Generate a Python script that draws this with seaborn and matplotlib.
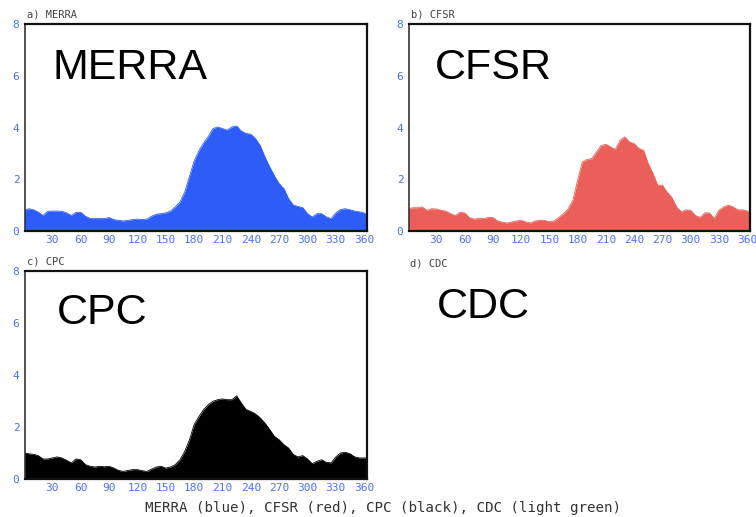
import numpy as np
import pandas as pd
import matplotlib
matplotlib.use("Agg")
import matplotlib.pyplot as plt
import seaborn as sns

lon = [0, 5, 10, 15, 20, 25, 30, 35, 40, 45, 50, 55, 60, 65, 70, 75, 80, 85, 90,
       95, 100, 105, 110, 115, 120, 125, 130, 135, 140, 145, 150, 155, 160, 165,
       170, 175, 180, 185, 190, 195, 200, 205, 210, 215, 220, 225, 230, 235, 240,
       245, 250, 255, 260, 265, 270, 275, 280, 285, 290, 295, 300, 305, 310, 315,
       320, 325, 330, 335, 340, 345, 350, 355, 360, 363]

merra = [0.80, 0.86, 0.82, 0.73, 0.60, 0.76, 0.77, 0.77, 0.76, 0.70, 0.60, 0.72,
         0.72, 0.57, 0.48, 0.48, 0.48, 0.48, 0.52, 0.44, 0.41, 0.39, 0.41, 0.44,
         0.46, 0.44, 0.46, 0.57, 0.65, 0.67, 0.70, 0.77, 0.93, 1.12, 1.50, 2.10,
         2.70, 3.10, 3.40, 3.65, 3.96, 4.02, 3.96, 3.90, 4.02, 4.06, 3.86, 3.77,
         3.74, 3.57, 3.30, 2.86, 2.48, 2.13, 1.83, 1.64, 1.25, 1.00, 0.95, 0.90,
         0.67, 0.54, 0.67, 0.67, 0.54, 0.48, 0.70, 0.83, 0.86, 0.82, 0.77, 0.74,
         0.70, 0.60]

cfsr = [0.86, 0.90, 0.90, 0.93, 0.80, 0.86, 0.85, 0.80, 0.77, 0.67, 0.60, 0.72,
        0.70, 0.52, 0.46, 0.48, 0.48, 0.52, 0.52, 0.39, 0.34, 0.31, 0.35, 0.39,
        0.41, 0.35, 0.31, 0.39, 0.41, 0.41, 0.36, 0.39, 0.52, 0.67, 0.86, 1.19,
        1.96, 2.67, 2.76, 2.80, 3.06, 3.30, 3.35, 3.25, 3.15, 3.50, 3.64, 3.44,
        3.38, 3.19, 3.12, 2.60, 2.22, 1.77, 1.77, 1.50, 1.30, 0.93, 0.74, 0.82,
        0.80, 0.60, 0.52, 0.70, 0.70, 0.48, 0.80, 0.93, 1.00, 0.93, 0.82, 0.82,
        0.77, 0.77]

cpc = [1.00, 0.97, 0.95, 0.90, 0.77, 0.77, 0.81, 0.85, 0.81, 0.72, 0.62, 0.77,
       0.74, 0.55, 0.49, 0.46, 0.49, 0.47, 0.49, 0.42, 0.33, 0.29, 0.33, 0.36,
       0.36, 0.32, 0.29, 0.38, 0.46, 0.49, 0.42, 0.46, 0.55, 0.74, 1.06, 1.50,
       2.09, 2.40, 2.67, 2.86, 2.99, 3.05, 3.08, 3.05, 3.05, 3.20, 2.92, 2.67,
       2.60, 2.50, 2.35, 2.15, 1.90, 1.64, 1.51, 1.32, 1.19, 0.94, 0.85, 0.90,
       0.77, 0.59, 0.68, 0.74, 0.64, 0.62, 0.85, 1.00, 1.03, 0.97, 0.85, 0.81,
       0.81, 0.81]

panel_titles = ["a) MERRA", "b) CFSR", "c) CPC", "d) CDC"]
big_labels = ["MERRA", "CFSR", "CPC", "CDC"]
x_ticks = [30, 60, 90, 120, 150, 180, 210, 240, 270, 300, 330, 360]
y_ticks = [0, 2, 4, 6, 8]
footer = "MERRA (blue), CFSR (red), CPC (black), CDC (light green)"

colors = ["#2e5cf8", "#ea5f5a", "#000000"]
tick_color = "#4d6ff5"

sns.set_style("white")
plt.rcParams["font.family"] = ["DejaVu Sans"]

fig = plt.figure(figsize=(7.56, 5.17), dpi=100)

W, H = 756.0, 517.0
def rect(l, t, r, b):
    return [l / W, 1 - b / H, (r - l) / W, (b - t) / H]

boxes = [rect(25, 24, 367, 231), rect(409, 24, 750, 231), rect(25, 271, 367, 479)]
series = [merra, cfsr, cpc]

for i, (box, vals) in enumerate(zip(boxes, series)):
    ax = fig.add_axes(box)
    df = pd.DataFrame({"lon": lon, "val": vals})
    sns.lineplot(data=df, x="lon", y="val", ax=ax, color=colors[i], lw=0.6)
    ax.fill_between(df["lon"], 0, df["val"], color=colors[i], lw=0)
    ax.set_xlim(1, 363)
    ax.set_ylim(0, 8)
    ax.set_xticks(x_ticks)
    ax.set_yticks(y_ticks)
    ax.set_xticklabels([str(t) for t in x_ticks])
    ax.set_yticklabels([str(t) for t in y_ticks])
    ax.set_xlabel("")
    ax.set_ylabel("")
    ax.tick_params(axis="both", colors=tick_color, labelsize=8, length=2,
                   width=1, pad=2, direction="out")
    ax.tick_params(axis="x", length=0, pad=3)
    for s in ax.spines.values():
        s.set_color("#111111")
        s.set_linewidth(1.6)
        s.set_visible(True)
    ax.spines["left"].set_color("#333333")
    ax.spines["left"].set_linewidth(1.2)
    for lab in ax.get_xticklabels() + ax.get_yticklabels():
        lab.set_color(tick_color)
        lab.set_family("DejaVu Sans Mono")
    ax.text(0.005, 1.02, panel_titles[i], transform=ax.transAxes,
            fontsize=7.5, color="#444444", family="DejaVu Sans Mono",
            ha="left", va="bottom")

# Big labels (figure coords in pixels)
big_pos = [(52, 68), (435, 68), (57, 313), (437, 307)]
for lab, (x, y) in zip(big_labels, big_pos):
    fig.text(x / W, 1 - y / H, lab, fontsize=31, family="Liberation Sans",
             color="black", ha="left", va="center")

# Panel d title (empty panel)
fig.text(410 / W, 1 - 263 / H, panel_titles[3], fontsize=7.5, color="#444444",
         family="DejaVu Sans Mono", ha="left", va="center")

fig.text(383 / W, 1 - 508 / H, footer, fontsize=10.2, color="#333333",
         family="DejaVu Sans Mono", ha="center", va="center")

fig.savefig("out.png", dpi=100)
